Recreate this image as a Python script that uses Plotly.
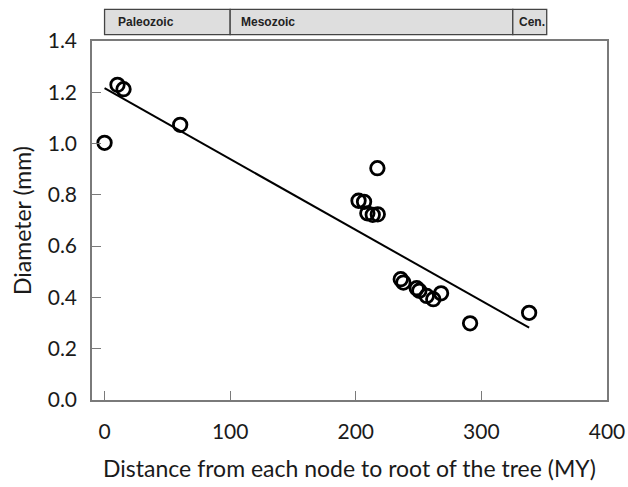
import plotly.graph_objects as go

# Data
distance = [0, 10.3, 15.1, 60.2, 217.2, 202.2, 206.6, 209.2, 213.5, 217.5,
            235.8, 237.9, 248.5, 250.6, 256.5, 261.7, 267.9, 291.0, 338.0]
diameter = [1.003, 1.229, 1.212, 1.073, 0.904, 0.777, 0.773, 0.728, 0.722, 0.724,
            0.471, 0.458, 0.436, 0.426, 0.406, 0.393, 0.416, 0.299, 0.340]

trend_x = [0, 338]
trend_y = [1.216, 0.282]

era_names = ["Paleozoic", "Mesozoic", "Cen."]
era_start = [0, 100, 325]
era_end = [100, 325, 352]
era_label_x = [9, 107, 328]

x_ticks = [0, 100, 200, 300, 400]
y_ticks = [0.0, 0.2, 0.4, 0.6, 0.8, 1.0, 1.2, 1.4]

fig = go.Figure()

fig.add_trace(go.Scatter(
    x=trend_x, y=trend_y, mode="lines",
    line=dict(color="black", width=2), showlegend=False, hoverinfo="skip"))

fig.add_trace(go.Scatter(
    x=distance, y=diameter, mode="markers",
    marker=dict(symbol="circle-open", size=13.5, color="black",
                line=dict(color="black", width=2.8)),
    showlegend=False))

for name, s, e, lx in zip(era_names, era_start, era_end, era_label_x):
    fig.add_shape(type="rect", xref="x", yref="paper", x0=s, x1=e,
                  y0=1.0175, y1=1.088, fillcolor="#dedede",
                  line=dict(color="#444444", width=1.3), layer="above")
    fig.add_annotation(x=lx, y=1.053, xref="x", yref="paper",
                       text="<b>" + name + "</b>",
                       showarrow=False, xanchor="left", yanchor="middle",
                       font=dict(family="Liberation Sans", size=12, color="#222222"))

axis_common = dict(
    showline=True, linecolor="#7a7a7a", linewidth=1.5, mirror=True,
    ticks="inside", ticklen=9, tickwidth=1.3, tickcolor="#7a7a7a",
    showgrid=False, zeroline=False, automargin=False,
    tickfont=dict(family="Lato", size=21, color="#1a1a1a"),
)

fig.update_xaxes(range=[-10, 400], tickvals=x_ticks,
                 title=dict(text="Distance from each node to root of the tree (MY)",
                            font=dict(family="Lato", size=23, color="#1a1a1a"),
                            standoff=19),
                 ticklabelstandoff=12, **axis_common)
fig.update_yaxes(range=[0, 1.4], tickvals=y_ticks, tickformat=".1f",
                 title=dict(text="Diameter (mm)",
                            font=dict(family="Lato", size=23, color="#1a1a1a"),
                            standoff=10),
                 ticklabelstandoff=9, **axis_common)

fig.update_layout(
    width=628, height=487,
    margin=dict(l=92, r=21, t=41, b=87),
    plot_bgcolor="white", paper_bgcolor="white",
)

fig.write_html("out.html")
